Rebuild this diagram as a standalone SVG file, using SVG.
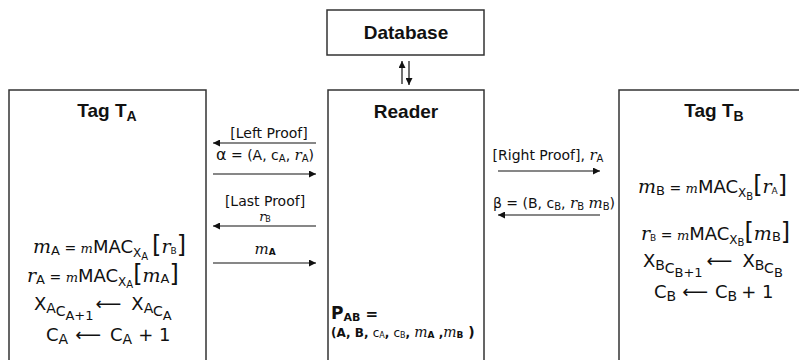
<svg xmlns="http://www.w3.org/2000/svg" width="799" height="360" viewBox="0 0 799 360">
<defs>
<marker id="ah" viewBox="0 0 10 10" refX="10" refY="5" markerWidth="9" markerHeight="7" markerUnits="userSpaceOnUse" orient="auto"><path d="M0,0 L10,5 L0,10 z" fill="#111"/></marker>
<style>
.box{fill:#fff;stroke:#333;stroke-width:1.5}
.title{font-family:"Liberation Sans",Arial,sans-serif;font-weight:bold;font-size:19px;fill:#111}
.lbl{font-family:"DejaVu Sans",Verdana,sans-serif;font-size:14px;fill:#111}
.eq{font-family:"DejaVu Sans",Verdana,sans-serif;font-size:18px;fill:#111}
.it{font-family:"DejaVu Serif","Liberation Serif",serif;font-style:italic}
.ln{stroke:#111;stroke-width:1.2;fill:none;marker-end:url(#ah)}
</style>
</defs>
<rect width="799" height="360" fill="#fff"/>

<g id="database">
<rect class="box" x="327" y="10" width="157" height="45"/>
<text class="title" x="406" y="39" text-anchor="middle">Database</text>
</g>

<g id="reader">
<rect class="box" x="328" y="90" width="156" height="280"/>
<text class="title" x="406" y="118" text-anchor="middle">Reader</text>
<text x="331" y="319" font-family="DejaVu Sans, Verdana, sans-serif" font-weight="bold" font-size="17" fill="#111">P<tspan font-size="11" dy="2">AB</tspan><tspan dy="-2" font-size="15"> =</tspan></text>
<text x="331" y="337" font-family="DejaVu Sans, Verdana, sans-serif" font-size="12" fill="#111"><tspan font-weight="bold">(A, B, </tspan>c<tspan font-size="8" dy="1">A</tspan><tspan dy="-1" font-weight="bold">, </tspan>c<tspan font-size="8" dy="1">B</tspan><tspan dy="-1" font-weight="bold">, </tspan><tspan class="it" font-size="14">m</tspan><tspan font-size="9" font-weight="bold" dy="1">A</tspan><tspan dy="-1" font-weight="bold"> ,</tspan><tspan class="it" font-size="14">m</tspan><tspan font-size="9" font-weight="bold" dy="1">B</tspan><tspan dy="-1" font-weight="bold" font-size="14"> )</tspan></text>
</g>

<g id="tagA">
<rect class="box" x="9" y="90" width="197" height="280"/>
<text class="title" x="107" y="117" text-anchor="middle">Tag  T<tspan font-size="14" dy="4">A</tspan></text>
<text class="eq" x="33" y="253"><tspan class="it" font-size="19">m</tspan><tspan font-size="13" dy="2">A</tspan><tspan dy="-2" font-size="14"> = </tspan><tspan class="it" font-size="13">m</tspan>MAC<tspan font-size="12" dy="4">X</tspan><tspan font-size="10" dy="3">A</tspan><tspan dy="-7" dx="4" font-size="24">[</tspan><tspan class="it" font-size="19">r</tspan><tspan font-size="9" dy="1">B</tspan><tspan dy="-1" font-size="24">]</tspan></text>
<text class="eq" x="27" y="282"><tspan class="it" font-size="19">r</tspan><tspan font-size="13" dy="2">A</tspan><tspan dy="-2" font-size="14"> = </tspan><tspan class="it" font-size="13">m</tspan>MAC<tspan font-size="12" dy="4">X</tspan><tspan font-size="10" dy="2">A</tspan><tspan dy="-6" font-size="24">[</tspan><tspan class="it" font-size="19">m</tspan><tspan font-size="13" dy="1">A</tspan><tspan dy="-1" font-size="24">]</tspan></text>
<text class="eq" x="34" y="310" font-size="19">X<tspan font-size="14" dy="3">A</tspan><tspan font-size="14" dy="3">C</tspan><tspan font-size="13" dy="4">A+1</tspan><tspan dy="-10" dx="2">⟵</tspan><tspan dx="10">X</tspan><tspan font-size="14" dy="3">A</tspan><tspan font-size="14" dy="3">C</tspan><tspan font-size="13" dy="4">A</tspan></text>
<text class="eq" x="46" y="341" font-size="20">C<tspan font-size="14" dy="3">A</tspan><tspan dy="-3" dx="7">⟵</tspan><tspan dx="9">C</tspan><tspan font-size="14" dy="3">A</tspan><tspan dy="-3" dx="6">+ 1</tspan></text>
</g>

<g id="tagB">
<rect class="box" x="619" y="90" width="185" height="280"/>
<text class="title" x="714" y="117" text-anchor="middle">Tag  T<tspan font-size="14" dy="4">B</tspan></text>
<text class="eq" x="638" y="193"><tspan class="it" font-size="19">m</tspan><tspan font-size="13" dy="2">B</tspan><tspan dy="-2" font-size="14"> = </tspan><tspan class="it" font-size="13">m</tspan>MAC<tspan font-size="12" dy="4">X</tspan><tspan font-size="10" dy="3">B</tspan><tspan dy="-7" font-size="24">[</tspan><tspan class="it" font-size="19">r</tspan><tspan font-size="9" dy="1">A</tspan><tspan dy="-1" font-size="24">]</tspan></text>
<text class="eq" x="641" y="240"><tspan class="it" font-size="19">r</tspan><tspan font-size="9" dy="1">B</tspan><tspan dy="-1" font-size="14"> = </tspan><tspan class="it" font-size="13">m</tspan>MAC<tspan font-size="12" dy="4">X</tspan><tspan font-size="10" dy="2">B</tspan><tspan dy="-6" font-size="24">[</tspan><tspan class="it" font-size="19">m</tspan><tspan font-size="13" dy="1">B</tspan><tspan dy="-1" font-size="24">]</tspan></text>
<text class="eq" x="643" y="267" font-size="19">X<tspan font-size="14" dy="3">B</tspan><tspan font-size="14" dy="3">C</tspan><tspan font-size="13" dy="4">B+1</tspan><tspan dy="-10" dx="4">⟵</tspan><tspan dx="10">X</tspan><tspan font-size="14" dy="3">B</tspan><tspan font-size="14" dy="3">C</tspan><tspan font-size="13" dy="4">B</tspan></text>
<text class="eq" x="654" y="298" font-size="20">C<tspan font-size="14" dy="3">B</tspan><tspan dy="-3" dx="6">⟵</tspan><tspan dx="7">C</tspan><tspan font-size="14" dy="3">B</tspan><tspan dy="-3" dx="4">+ 1</tspan></text>
</g>

<g id="connectors">
<line class="ln" x1="402" y1="84" x2="402" y2="61"/>
<line class="ln" x1="409" y1="61" x2="409" y2="85"/>
<line class="ln" x1="316" y1="143" x2="213" y2="143"/>
<line class="ln" x1="213" y1="174" x2="316" y2="174"/>
<line class="ln" x1="316" y1="226" x2="213" y2="226"/>
<line class="ln" x1="213" y1="263" x2="316" y2="263"/>
<line class="ln" x1="498" y1="171" x2="600" y2="171"/>
<line class="ln" x1="600" y1="215" x2="498" y2="215"/>
</g>

<g id="labels">
<text class="lbl" x="269" y="138" text-anchor="middle">[Left Proof]</text>
<text class="lbl" x="265" y="160" text-anchor="middle"><tspan font-size="16">α</tspan> = (A, c<tspan font-size="10" dy="2">A</tspan><tspan dy="-2">, </tspan><tspan class="it" font-size="15">r</tspan><tspan font-size="10" dy="2">A</tspan><tspan dy="-2">)</tspan></text>
<text class="lbl" x="265" y="206" text-anchor="middle">[Last Proof]</text>
<text class="lbl" x="265" y="221" text-anchor="middle"><tspan class="it" font-size="13">r</tspan><tspan font-size="8" dy="1">B</tspan></text>
<text class="lbl" x="265" y="254" text-anchor="middle"><tspan class="it" font-size="15">m</tspan><tspan font-size="9" font-weight="bold" dy="1">A</tspan></text>
<text class="lbl" x="548" y="160" text-anchor="middle">[Right Proof], <tspan class="it" font-size="15">r</tspan><tspan font-size="10" dy="2">A</tspan></text>
<text class="lbl" x="554" y="208" text-anchor="middle">β = (B, c<tspan font-size="10" dy="2">B</tspan><tspan dy="-2">, </tspan><tspan class="it" font-size="15">r</tspan><tspan font-size="10" dy="2">B</tspan><tspan dy="-2"> </tspan><tspan class="it" font-size="15">m</tspan><tspan font-size="10" dy="2">B</tspan><tspan dy="-2">)</tspan></text>
</g>
</svg>
